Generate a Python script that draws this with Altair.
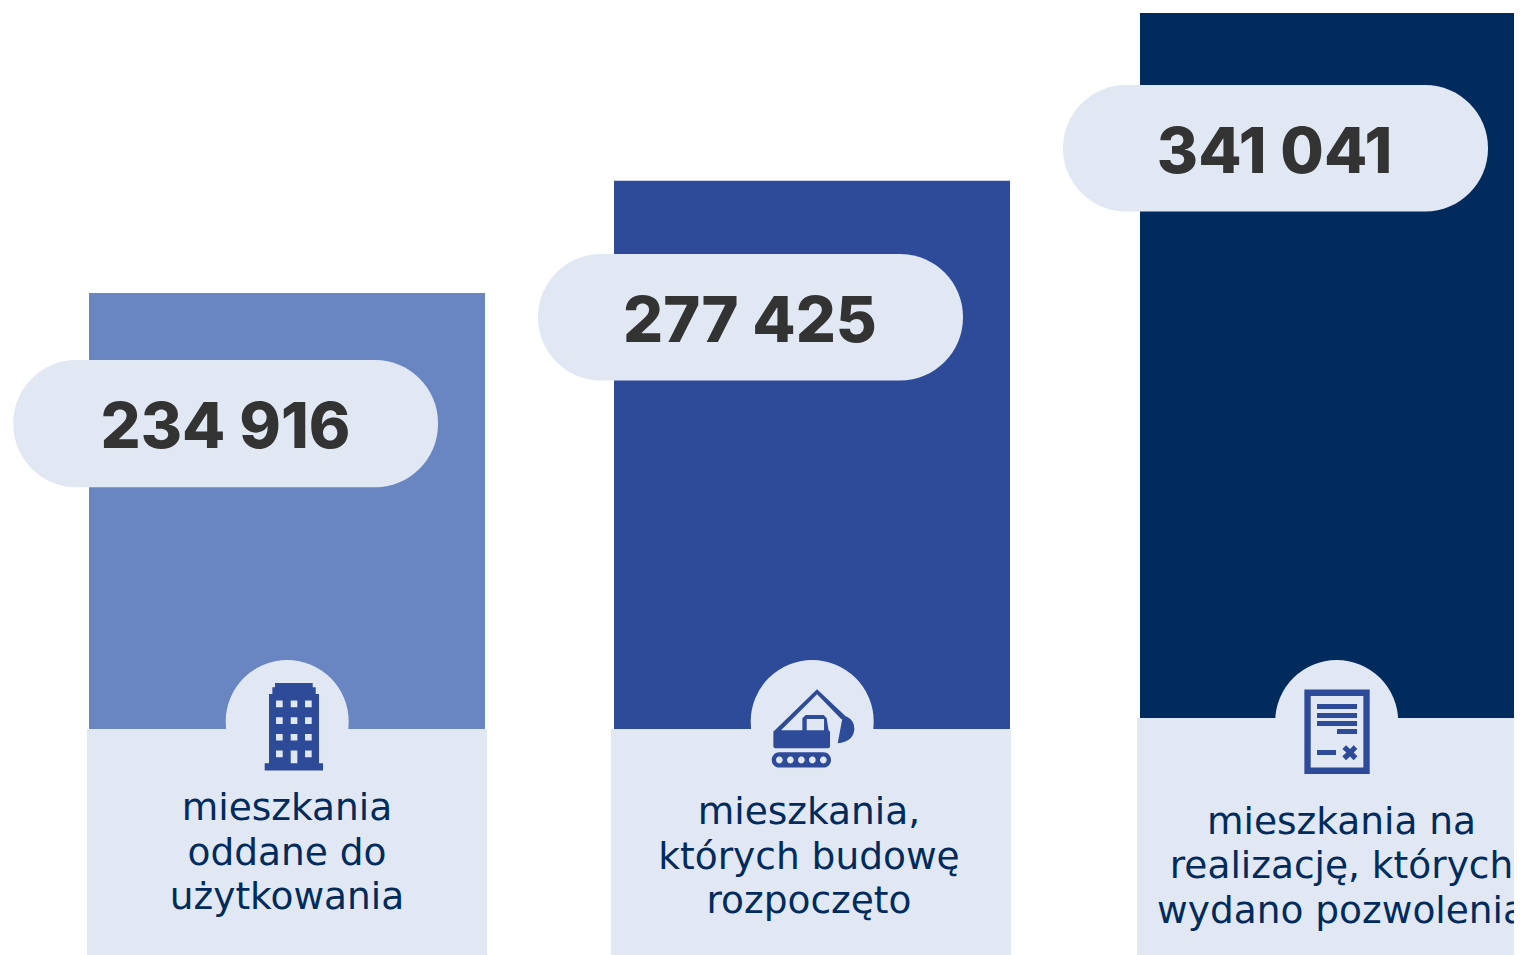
import altair as alt
import pandas as pd

# ---- data -----------------------------------------------------------------
values = [234916, 277425, 341041]
value_labels = ["234 916", "277 425", "341 041"]
descriptions = [
    "mieszkania\noddane do\nużytkowania",
    "mieszkania,\nktórych budowę\nrozpoczęto",
    "mieszkania na\nrealizację, których\nwydano pozwolenia",
]
bar_colors = ["#6A86C2", "#2E4B9A", "#002B5C"]

# horizontal layout on the (hidden) x scale
bar_left = [89, 614, 1140]
bar_right = [485, 1010, 1536]
panel_left = [87, 611, 1137]
panel_right = [487, 1011, 1537]
pill_left = [13.3, 538, 1063]
pill_right = [438, 963, 1488]
number_x = [225.5, 750, 1274.5]
text_x = [287, 809, 1341.5]
arch_x = [287.2, 812.2, 1336.7]
icon_x = [286.7, 811.7, 1336.7]

# vertical layout on the y scale (same units as the values)
panel_top = [69670, 69670, 73840]
pill_top = [209500, 249700, 313750]
pill_bottom = [161300, 201750, 265800]
number_y = [176000, 216200, 280500]
text_y = [35000, 33500, 30000]
arch_y = [72500, 72500, 72500]
icon_y = [71200, 71200, 71200]

PANEL = "#E1E7F3"
ICON = "#2E4B9A"
Y_MIN, Y_MAX = -15995, 342935
X_MIN, X_MAX = 8, 1514


# ---- icons: symbol paths, coordinates measured in 1/3 px around (200, 225) --
def P(x, y):
    return f"{(x - 200) / 150:.4f},{(y - 225) / 150:.4f}"


def poly(*pts):
    return "M" + "L".join(P(x, y) for x, y in pts) + "Z"


def rect(x0, y0, x1, y1):
    return poly((x0, y0), (x1, y0), (x1, y1), (x0, y1))


def hole(x0, y0, x1, y1):
    return poly((x0, y0), (x0, y1), (x1, y1), (x1, y0))


def circle_hole(cx, cy, r):
    rr = r / 150
    return f"M{P(cx - r, cy)}A{rr:.4f},{rr:.4f} 0 1 0 {P(cx + r, cy)}A{rr:.4f},{rr:.4f} 0 1 0 {P(cx - r, cy)}Z"


def rounded(x0, y0, x1, y1, r):
    rr = r / 150
    a = f"A{rr:.4f},{rr:.4f} 0 0 1 "
    return (
        f"M{P(x0 + r, y0)}L{P(x1 - r, y0)}{a}{P(x1, y0 + r)}L{P(x1, y1 - r)}{a}{P(x1 - r, y1)}"
        f"L{P(x0 + r, y1)}{a}{P(x0, y1 - r)}L{P(x0, y0 + r)}{a}{P(x0 + r, y0)}Z"
    )


building = (
    poly((165, 99), (278, 99), (278, 112), (287, 112), (287, 132), (297, 132), (297, 340),
         (309, 340), (309, 362), (134, 362), (134, 340), (147, 340), (147, 132), (157, 132), (157, 112), (165, 112))
    + "".join(hole(x, y, x + 20, y + 20) for x in (168, 212, 255) for y in (152, 202, 252))
    + hole(168, 302, 188, 322) + hole(255, 302, 275, 322) + hole(212, 302, 232, 340)
)
excavator = (
    poly((87, 243), (216, 118), (305, 202), (289, 208), (216, 133), (108, 241), (108, 250), (87, 250))
    + rounded(85, 241, 255, 295, 6)
    + poly((172, 205), (182, 195), (236, 195), (245, 205), (252, 250), (172, 250))
    + hole(185, 207, 237, 243)
    + f"M{P(292, 205)}L{P(305, 200)}Q{P(328, 212)},{P(328, 238)}Q{P(325, 275)},{P(278, 280)}Z"
    + rounded(80, 307, 258, 353, 23)
    + "".join(circle_hole(x, 330, 10) for x in (103, 136, 169, 202, 235))
)
document = (
    rect(103, 119, 299, 372) + hole(122, 138, 280, 353)
    + rect(141, 162, 261, 177) + rect(141, 189, 261, 204) + rect(141, 213, 261, 228)
    + rect(201, 237, 261, 252) + rect(141, 300, 198, 315)
    + poly((228, 286), (240, 297), (251, 286), (262, 297), (251, 308), (262, 319), (251, 331),
           (240, 320), (228, 331), (217, 319), (229, 308), (217, 297))
)
icon_paths = [building, excavator, document]

# ---- chart -----------------------------------------------------------------
df = pd.DataFrame({
    "value": values, "label": value_labels, "desc": descriptions, "color": bar_colors,
    "bl": bar_left, "br": bar_right, "pl": panel_left, "pr": panel_right,
    "ql": pill_left, "qr": pill_right, "nx": number_x, "tx": text_x,
    "ax": arch_x, "ix": icon_x, "ptop": panel_top, "qt": pill_top, "qb": pill_bottom,
    "ny": number_y, "ty": text_y, "ay": arch_y, "iy": icon_y,
    "base": [0, 0, 0], "bottom": [Y_MIN] * 3,
})
xs = alt.Scale(domain=[X_MIN, X_MAX], nice=False, zero=False)
ys = alt.Scale(domain=[Y_MIN, Y_MAX], nice=False, zero=False)


def X(f):
    return alt.X(f"{f}:Q", scale=xs, axis=None)


def Y(f):
    return alt.Y(f"{f}:Q", scale=ys, axis=None)


base = alt.Chart(df)
bars = base.mark_rect(clip=True).encode(x=X("bl"), x2="br:Q", y=Y("value"), y2="base:Q",
                                        color=alt.Color("color:N", scale=None))
arches = base.mark_point(filled=True, opacity=1, color=PANEL, size=15129, shape="circle").encode(x=X("ax"), y=Y("ay"))
panels = base.mark_rect(color=PANEL, clip=True).encode(x=X("pl"), x2="pr:Q", y=Y("ptop"), y2="bottom:Q")
pills = base.mark_rect(color=PANEL, cornerRadius=63).encode(x=X("ql"), x2="qr:Q", y=Y("qt"), y2="qb:Q")
numbers = base.mark_text(font="Inter", fontWeight=800, fontSize=63, color="#333333",
                         align="center", baseline="alphabetic").encode(x=X("nx"), y=Y("ny"), text="label:N")
texts = base.mark_text(font="DejaVu Sans", fontWeight=400, fontSize=37.5, color="#002B5C", align="center",
                       baseline="alphabetic", lineBreak="\n", lineHeight=44.5).encode(x=X("tx"), y=Y("ty"), text="desc:N")
icons = [
    alt.Chart(df.iloc[[i]]).mark_point(filled=True, opacity=1, color=ICON, size=10000, shape=icon_paths[i], strokeWidth=0)
    .encode(x=X("ix"), y=Y("iy"))
    for i in range(3)
]

chart = alt.layer(bars, arches, panels, pills, numbers, texts, *icons).properties(
    width=X_MAX - X_MIN, height=947, padding=0, background="white",
    autosize=alt.AutoSizeParams(type="none"),
).configure_view(stroke=None)

chart.save("out.html", embed_options={"renderer": "svg", "actions": False})
